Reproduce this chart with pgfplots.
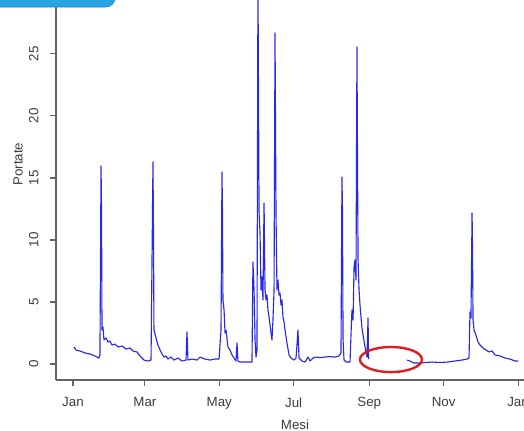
\documentclass[border=0pt]{standalone}
\usepackage{pgfplots}
\pgfplotsset{compat=1.18}
\usepackage{pgfplotstable}
\usepackage{fontspec}
\setmainfont{Liberation Sans}
\definecolor{lineblue}{RGB}{40,40,235}
\definecolor{axgray}{RGB}{100,100,100}
\definecolor{txtgray}{RGB}{60,60,60}
\definecolor{boxblue}{RGB}{40,165,225}
\definecolor{boxedge}{RGB}{25,135,200}
\definecolor{ellred}{RGB}{220,30,35}

\pgfplotstableread{
d v
0.8 1.37
2.5 1.13
5.7 1.05
9.8 0.89
13.9 0.81
18.0 0.65
21.3 0.48
22.1 0.73
23.0 15.97
23.4 12.42
23.8 2.74
24.6 2.98
25.4 1.94
27.1 2.10
28.7 1.77
30.3 1.85
32.0 1.53
34.4 1.61
36.9 1.37
40.2 1.45
43.5 1.21
46.8 1.29
49.2 1.05
52.5 0.97
55.0 0.65
58.2 0.32
61.5 0.24
64.0 0.32
65.6 16.29
66.0 10.81
66.4 2.74
68.1 2.10
69.7 1.53
71.4 1.13
73.0 0.81
74.6 0.56
76.3 0.65
77.9 0.40
80.4 0.56
82.8 0.32
86.1 0.48
89.4 0.24
92.7 0.32
93.5 2.58
94.3 0.32
97.6 0.40
101.7 0.32
104.2 0.56
108.3 0.40
112.4 0.32
116.5 0.40
119.8 0.40
121.4 2.74
122.2 15.48
122.6 12.18
123.0 5.16
123.9 4.35
124.7 2.50
125.5 2.74
127.1 1.37
128.8 1.13
130.4 0.73
132.1 0.48
133.7 0.24
134.5 1.69
135.3 0.24
137.0 0.16
146.8 0.16
147.6 8.23
148.5 5.97
149.3 1.94
150.1 0.56
150.9 1.13
151.7 31.0
152.0 25.08
152.6 12.18
153.4 10.56
154.2 5.97
155.0 7.02
155.8 5.16
156.7 12.98
157.5 5.97
158.3 5.16
159.1 5.56
159.9 4.35
160.8 3.79
161.6 3.15
162.4 2.50
163.2 1.94
164.0 3.55
164.9 5.97
165.7 26.69
166.1 19.11
166.5 12.18
167.3 5.97
168.1 6.77
169.0 5.56
169.8 5.73
170.6 4.76
171.4 5.16
172.2 3.79
173.1 3.39
173.9 2.74
175.5 1.69
177.2 0.73
178.8 0.48
181.3 0.32
182.9 0.48
183.7 1.53
184.5 2.74
185.4 0.48
187.8 0.24
190.3 0.16
192.8 0.56
194.4 0.24
196.9 0.48
199.3 0.56
202.6 0.52
206.7 0.56
210.8 0.60
214.9 0.56
218.2 0.65
219.8 0.89
220.6 15.08
221.0 12.58
221.5 1.94
222.3 0.32
223.9 0.16
227.2 0.16
228.0 2.34
228.8 4.35
229.7 3.55
230.5 7.82
231.3 8.39
232.1 6.77
232.9 25.56
233.3 17.26
233.8 8.39
234.6 5.97
235.4 4.76
236.2 3.79
237.0 2.90
237.9 2.34
239.5 1.37
240.3 0.97
241.1 0.56
242.0 3.71
242.4 0.48
242.8 0.40
}\seriesA

\pgfplotstableread{
d v
274.0 0.32
276.4 0.24
279.7 0.08
283.0 0.08
288.7 0.12
294.5 0.16
301.0 0.12
307.6 0.16
313.3 0.24
319.1 0.32
323.2 0.40
324.8 0.48
325.6 4.19
326.4 3.71
327.3 12.18
327.7 9.03
328.1 3.55
328.9 2.74
330.5 2.34
332.2 1.77
333.8 1.53
336.3 1.29
338.7 1.13
341.2 0.97
343.7 1.05
346.1 0.73
350.2 0.65
354.3 0.48
358.4 0.40
362.5 0.24
365.0 0.24
}\seriesB

\begin{document}
\begin{tikzpicture}
\begin{axis}[
  at={(0pt,0pt)}, anchor=south west,
  scale only axis,
  width=351pt, height=285pt,
  xmin=-13.94, xmax=369.9,
  ymin=-1.29, ymax=29.35,
  axis x line*=bottom, axis y line*=left,
  axis line style={axgray, line width=0.8pt, -},
  xtick={0,59,120,181,243,304,365},
  xticklabels={Jan,Mar,May,Jul,Sep,Nov,Jan},
  ytick={0,5,10,15,20,25},
  tick align=outside,
  major tick length=4.5pt,
  tick style={axgray, line width=0.8pt},
  /pgf/number format/assume math mode=true,
  ticklabel style={font=\fontsize{10}{12}\selectfont, text=txtgray},
  xticklabel style={anchor=north, yshift=-5pt},
  yticklabel style={rotate=90, anchor=south, yshift=5pt},
  xlabel={Mesi},
  ylabel={Portate},
  label style={font=\fontsize{10}{12}\selectfont, text=txtgray},
  xlabel style={at={(axis description cs:0.5107,-0.129)}, anchor=base},
  ylabel style={at={(axis description cs:-0.0812,0.568)}, anchor=center, rotate=0},
  clip=true,
]
\addplot[lineblue, line width=0.85pt, line join=round] table[x=d, y=v] {\seriesA};
\addplot[lineblue, line width=0.85pt, line join=round] table[x=d, y=v] {\seriesB};
\draw[ellred, line width=1.8pt] (axis cs:260.8,0.36) ellipse [x radius=23.25pt, y radius=9.4pt];
\end{axis}
\filldraw[fill=boxblue, draw=boxedge, line width=0.6pt, rounded corners=7pt] (-60pt,279.75pt) rectangle (44.25pt,300pt);
\pgfresetboundingbox
\useasboundingbox (-42pt,-37.5pt) rectangle (351pt,285pt);
\end{tikzpicture}
\end{document}
